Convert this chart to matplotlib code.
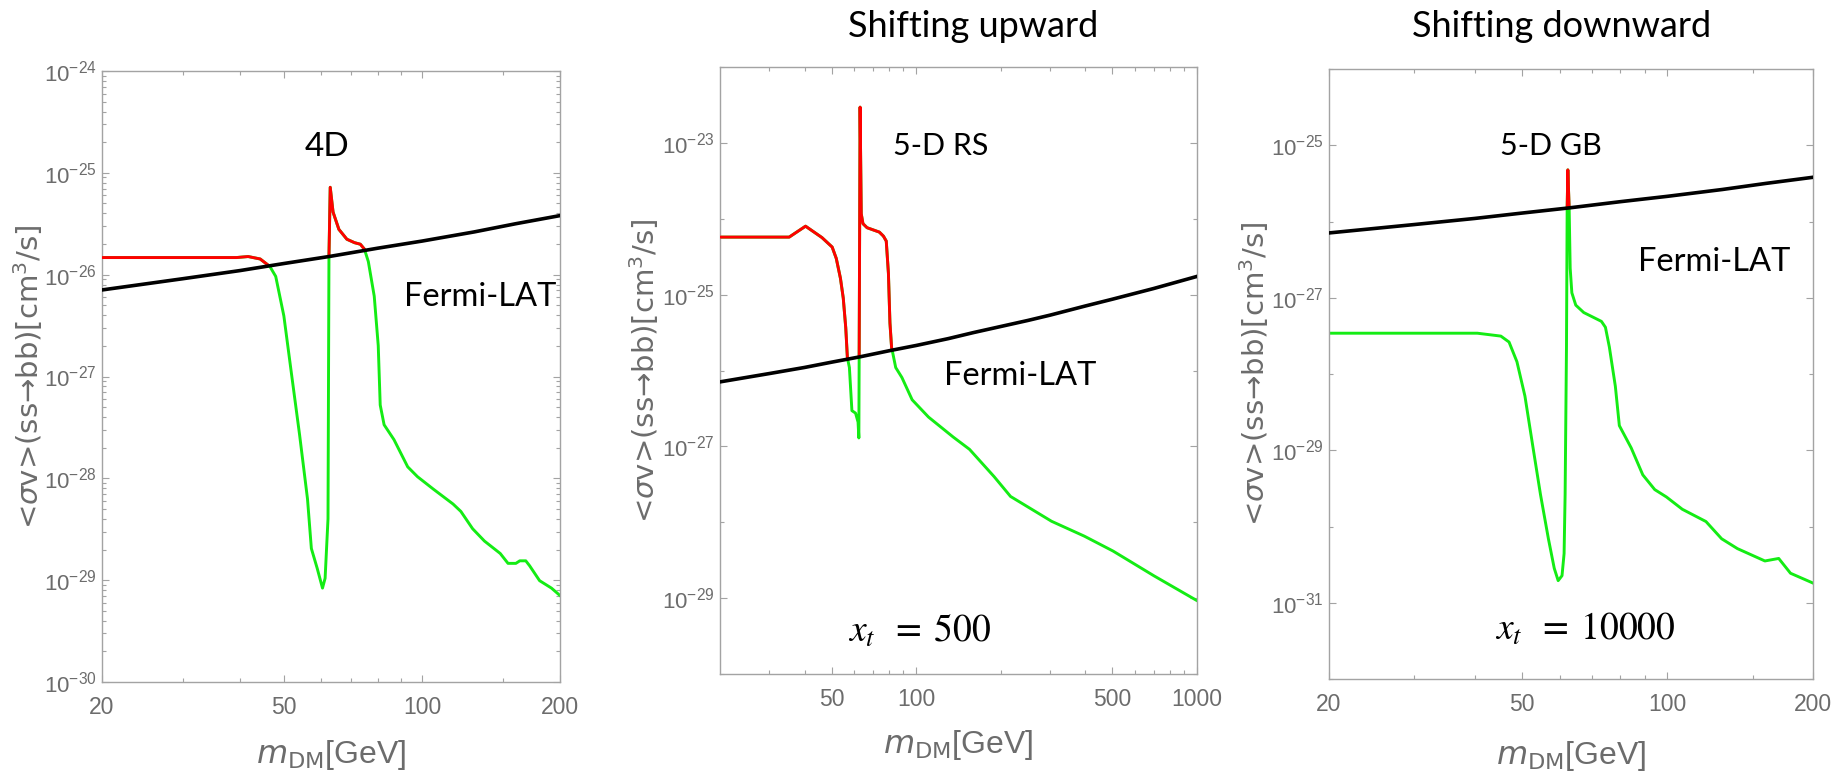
import matplotlib

matplotlib.use("Agg")
import matplotlib.pyplot as plt
import numpy as np
from matplotlib.patches import Polygon
from matplotlib.ticker import FixedLocator, FuncFormatter, LogLocator, NullFormatter

# Fermi-LAT dwarf-galaxy limit on <sigma v>(ss -> bb), log10 [cm^3/s]
fermi_mass = [20, 30, 40, 50, 63, 80, 100, 130, 160, 200, 250, 300, 400, 500, 700, 1000]
fermi_log_sv = [-26.15, -26.04, -25.96, -25.89, -25.82, -25.74, -25.67, -25.58,
                -25.50, -25.42, -25.34, -25.27, -25.15, -25.06, -24.92, -24.76]

# relic curve, 4D
mass_4d = [20, 29.2, 39.3, 41.7, 44.3, 46.5, 47.9, 49.9, 51.9, 54.0, 56.2, 57.3, 59.0,
           60.6, 61.4, 62.3, 62.6, 63.0, 63.9, 65.8, 68.5, 71.2, 73.3, 74.8, 76.3, 78.6,
           80.2, 81.0, 82.6, 86.8, 93.0, 97.7, 105.8, 116.8, 121.5, 128.9, 136.8, 148.1,
           154.0, 160.2, 163.4, 168.4, 171.7, 180.5, 191.6, 200]
log_sv_4d = [-25.832, -25.832, -25.832, -25.822, -25.846, -25.919, -26.017, -26.405,
             -26.988, -27.571, -28.203, -28.689, -28.883, -29.078, -28.981, -28.397,
             -25.822, -25.142, -25.385, -25.555, -25.652, -25.686, -25.701, -25.749,
             -25.871, -26.211, -26.697, -27.280, -27.474, -27.620, -27.887, -27.984,
             -28.106, -28.252, -28.325, -28.495, -28.616, -28.738, -28.835, -28.835,
             -28.810, -28.810, -28.859, -29.005, -29.078, -29.151]

# relic curve, 5-D RS (x_t = 500)
mass_rs = [20, 26.96, 35.27, 40.34, 46.15, 50.18, 51.9, 53.7, 54.96, 56.1, 56.85, 57.8,
           59.0, 60.8, 62.05, 62.46, 63.1, 63.7, 64.6, 66.8, 73.9, 76.4, 78.2, 79.6,
           80.6, 81.7, 82.3, 84.5, 88.9, 96.7, 110.6, 135.3, 154.8, 189.4, 216.7,
           265.1, 303.3, 396.8, 502, 702.6, 1000]
log_sv_rs = [-24.242, -24.242, -24.242, -24.098, -24.248, -24.373, -24.523, -24.784,
             -25.046, -25.438, -25.830, -25.961, -26.529, -26.562, -26.680, -26.889,
             -22.529, -23.935, -24.065, -24.118, -24.176, -24.229, -24.294, -24.719,
             -25.373, -25.699, -25.752, -25.961, -26.092, -26.386, -26.614, -26.876,
             -27.039, -27.399, -27.660, -27.856, -27.987, -28.183, -28.379, -28.706,
             -29.033]

# relic curve, 5-D GB (x_t = 10000)
mass_gb = [20, 28.4, 40.5, 45.3, 47.1, 48.9, 50.8, 52.7, 54.7, 56.8, 58.4, 59.5, 60.6,
           61.2, 61.5, 61.9, 62.1, 62.3, 62.7, 63.0, 63.5, 64.7, 67.2, 70.4, 73.1, 74.5,
           75.9, 78.1, 79.6, 84.2, 89.0, 94.2, 99.6, 107.4, 120.2, 129.5, 139.6, 159.1,
           169.9, 179.7, 200]
log_sv_gb = [-27.465, -27.465, -27.465, -27.503, -27.581, -27.839, -28.290, -28.935,
             -29.581, -30.161, -30.548, -30.710, -30.645, -30.355, -29.581, -27.645,
             -25.839, -25.323, -25.839, -26.613, -26.935, -27.097, -27.194, -27.258,
             -27.310, -27.387, -27.645, -28.161, -28.677, -28.968, -29.323, -29.516,
             -29.613, -29.774, -29.935, -30.161, -30.290, -30.452, -30.419, -30.613,
             -30.742]

FIG_W_PX, FIG_H_PX = 1843, 774
GREEN = "#14ec14"
RED = "#ff0000"
FRAME = "#a3a3a3"
LABEL_GREY = "#6c6c6c"
NARROW = "Liberation Sans Narrow"
TICK_FONT = [NARROW, "Liberation Sans", "DejaVu Sans"]
NOTE_FONT = ["Lato", "DejaVu Sans"]

plt.rcParams["mathtext.fontset"] = "custom"
plt.rcParams["mathtext.rm"] = NARROW
plt.rcParams["mathtext.it"] = NARROW + ":italic"

YLABEL = r"<$\sigma$v>(ss→bb)[cm$^3$/s]"
XLABEL = r"$m_{\mathrm{DM}}$[GeV]"


def _rect(left, top, right, bottom):
    """Pixel box -> figure-fraction rect."""
    return [left / FIG_W_PX, 1 - bottom / FIG_H_PX,
            (right - left) / FIG_W_PX, (bottom - top) / FIG_H_PX]


def _pow10(v, _pos):
    return r"$\mathregular{10^{%d}}$" % int(round(np.log10(v)))


def draw_panel(ax, mass, log_sv, *, xlim, ylim_exp, label_exp, xticks, xminor,
               sub_decades, ylabel_x, xlabel_y):
    ax.set_xscale("log")
    ax.set_yscale("log")

    sv = 10.0 ** np.asarray(log_sv)
    fermi_sv = 10.0 ** np.asarray(fermi_log_sv)

    ax.plot(mass, sv, color=GREEN, lw=2.1, solid_joinstyle="round", zorder=2)
    red, = ax.plot(mass, sv, color=RED, lw=2.1, solid_joinstyle="round", zorder=3)
    # red only where the relic curve sits above the Fermi-LAT limit
    above = np.column_stack([
        list(fermi_mass) + [fermi_mass[-1], fermi_mass[0]],
        list(fermi_sv) + [1e-10, 1e-10],
    ])
    red.set_clip_path(Polygon(above, closed=True, transform=ax.transData))
    ax.plot(fermi_mass, fermi_sv, color="black", lw=2.6, zorder=4)

    ax.set_xlim(*xlim)
    ax.set_ylim(10.0 ** ylim_exp[0], 10.0 ** ylim_exp[1])

    ax.xaxis.set_major_locator(FixedLocator(xticks))
    ax.xaxis.set_major_formatter(FuncFormatter(lambda v, _: f"{v:g}"))
    ax.xaxis.set_minor_locator(FixedLocator(xminor))
    ax.xaxis.set_minor_formatter(NullFormatter())

    ax.yaxis.set_major_locator(FixedLocator([10.0 ** e for e in label_exp]))
    ax.yaxis.set_major_formatter(FuncFormatter(_pow10))
    if sub_decades:
        ax.yaxis.set_minor_locator(LogLocator(base=10, subs=np.arange(2, 10), numticks=100))
    else:
        even = [10.0 ** e for e in range(ylim_exp[0], ylim_exp[1] + 1) if e not in label_exp]
        ax.yaxis.set_minor_locator(FixedLocator(even))
    ax.yaxis.set_minor_formatter(NullFormatter())

    for side in ax.spines.values():
        side.set_color(FRAME)
        side.set_linewidth(1.0)
    ax.tick_params(which="both", direction="in", top=True, right=True,
                   color=FRAME, width=0.8)
    ax.tick_params(which="major", length=4.8)
    ax.tick_params(which="minor", length=3.0)
    ax.tick_params(axis="y", which="major", pad=4, labelsize=16, labelcolor=LABEL_GREY)
    ax.tick_params(axis="x", which="major", pad=10, labelsize=16.5, labelcolor=LABEL_GREY)
    for lab in ax.get_xticklabels() + ax.get_yticklabels():
        lab.set_family(TICK_FONT)

    ax.set_ylabel(YLABEL, fontsize=21, color=LABEL_GREY, family="DejaVu Sans",
                  math_fontfamily="dejavusans", va="center")
    ax.yaxis.set_label_coords(ylabel_x, 0.5)
    ax.set_xlabel(XLABEL, fontsize=23, color=LABEL_GREY, family=TICK_FONT,
                  math_fontfamily="custom", va="center")
    ax.xaxis.set_label_coords(0.5, xlabel_y)


def note(ax, x, y, text, size=23.5, **kw):
    ax.text(x, y, text, transform=ax.transAxes, ha="center", va="center",
            fontsize=size, family=NOTE_FONT, color="black", **kw)


def xt_note(ax, x, y, text):
    ax.text(x, y, text, transform=ax.transAxes, ha="center", va="center",
            fontsize=27, color="black", math_fontfamily="stix")


fig = plt.figure(figsize=(FIG_W_PX / 100, FIG_H_PX / 100), dpi=100)
fig.patch.set_facecolor("white")

minor_20_200 = [30, 40, 60, 70, 80, 90, 150]
minor_20_1000 = [30, 40, 60, 70, 80, 90, 200, 300, 400, 600, 700, 800, 900]

ax1 = fig.add_axes(_rect(102, 71, 560, 682))
draw_panel(ax1, mass_4d, log_sv_4d, xlim=(20, 200), ylim_exp=(-30, -24),
           label_exp=list(range(-30, -23)), xticks=[20, 50, 100, 200],
           xminor=minor_20_200, sub_decades=True, ylabel_x=-0.162, xlabel_y=-0.12)
note(ax1, 0.491, 0.876, "4D", size=24)
note(ax1, 0.825, 0.630, "Fermi-LAT")

ax2 = fig.add_axes(_rect(720, 67, 1197, 674))
draw_panel(ax2, mass_rs, log_sv_rs, xlim=(20, 1000), ylim_exp=(-30, -22),
           label_exp=[-29, -27, -25, -23], xticks=[50, 100, 500, 1000],
           xminor=minor_20_1000, sub_decades=False, ylabel_x=-0.16, xlabel_y=-0.117)
note(ax2, 0.463, 0.870, "5-D RS", size=22)
note(ax2, 0.629, 0.491, "Fermi-LAT")
note(ax2, 0.530, 1.066, "Shifting upward", size=26)
xt_note(ax2, 0.419, 0.071, r"$x_t\;\;=\;500$")

ax3 = fig.add_axes(_rect(1329, 69, 1813, 679))
draw_panel(ax3, mass_gb, log_sv_gb, xlim=(20, 200), ylim_exp=(-32, -24),
           label_exp=[-31, -29, -27, -25], xticks=[20, 50, 100, 200],
           xminor=minor_20_200, sub_decades=False, ylabel_x=-0.155, xlabel_y=-0.127)
note(ax3, 0.459, 0.874, "5-D GB", size=22)
note(ax3, 0.795, 0.684, "Fermi-LAT")
note(ax3, 0.481, 1.069, "Shifting downward", size=26)
xt_note(ax3, 0.529, 0.080, r"$x_t\;\;=\;10000$")

fig.savefig("out.png", dpi=100, facecolor="white")
